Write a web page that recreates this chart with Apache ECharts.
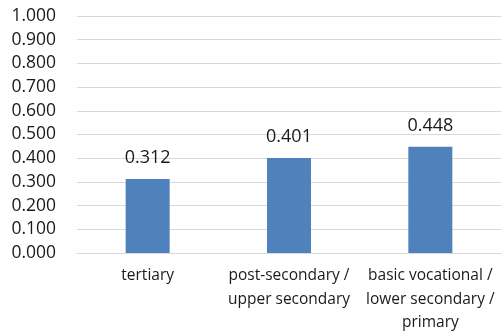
<!DOCTYPE html>
<html>
<head>
<meta charset="utf-8">
<script src="https://cdn.jsdelivr.net/npm/echarts@6/dist/echarts.min.js"></script>
<style>
  html, body { margin: 0; padding: 0; background: #fff; }
  #chart { width: 502px; height: 331px; }
</style>
</head>
<body>
<div id="chart"></div>
<script>
// Education levels and their values
const categories = [
  'tertiary',
  'post-secondary /\nupper secondary',
  'basic vocational /\nlower secondary /\nprimary'
];
const values = [0.312, 0.401, 0.448];

const chart = echarts.init(document.getElementById('chart'));
const font = '"Open Sans", sans-serif';

chart.setOption({
  animation: false,
  grid: {
    left: 77, right: 1, top: 16, bottom: 78,
    containLabel: false,
    outerBoundsMode: 'none'
  },
  xAxis: {
    type: 'category',
    data: categories,
    axisLine: { show: true, lineStyle: { color: '#d9d9d9', width: 1 } },
    axisTick: { show: false },
    axisLabel: {
      color: '#1a1a1a',
      fontFamily: font,
      fontSize: 15.5,
      lineHeight: 23.5,
      margin: 11,
      interval: 0
    }
  },
  yAxis: {
    type: 'value',
    min: 0,
    max: 1,
    interval: 0.1,
    axisLine: { show: false },
    axisTick: { show: false },
    splitLine: { lineStyle: { color: '#d9d9d9', width: 1 } },
    axisLabel: {
      color: '#1a1a1a',
      fontFamily: font,
      fontSize: 17.5,
      margin: 21,
      formatter: v => v.toFixed(3)
    }
  },
  series: [{
    type: 'bar',
    data: values,
    barWidth: 44,
    itemStyle: { color: '#4f81bd' },
    label: {
      show: true,
      position: 'top',
      distance: 12,
      color: '#1a1a1a',
      fontFamily: font,
      fontSize: 18,
      formatter: p => p.value.toFixed(3)
    }
  }]
});
</script>
</body>
</html>
